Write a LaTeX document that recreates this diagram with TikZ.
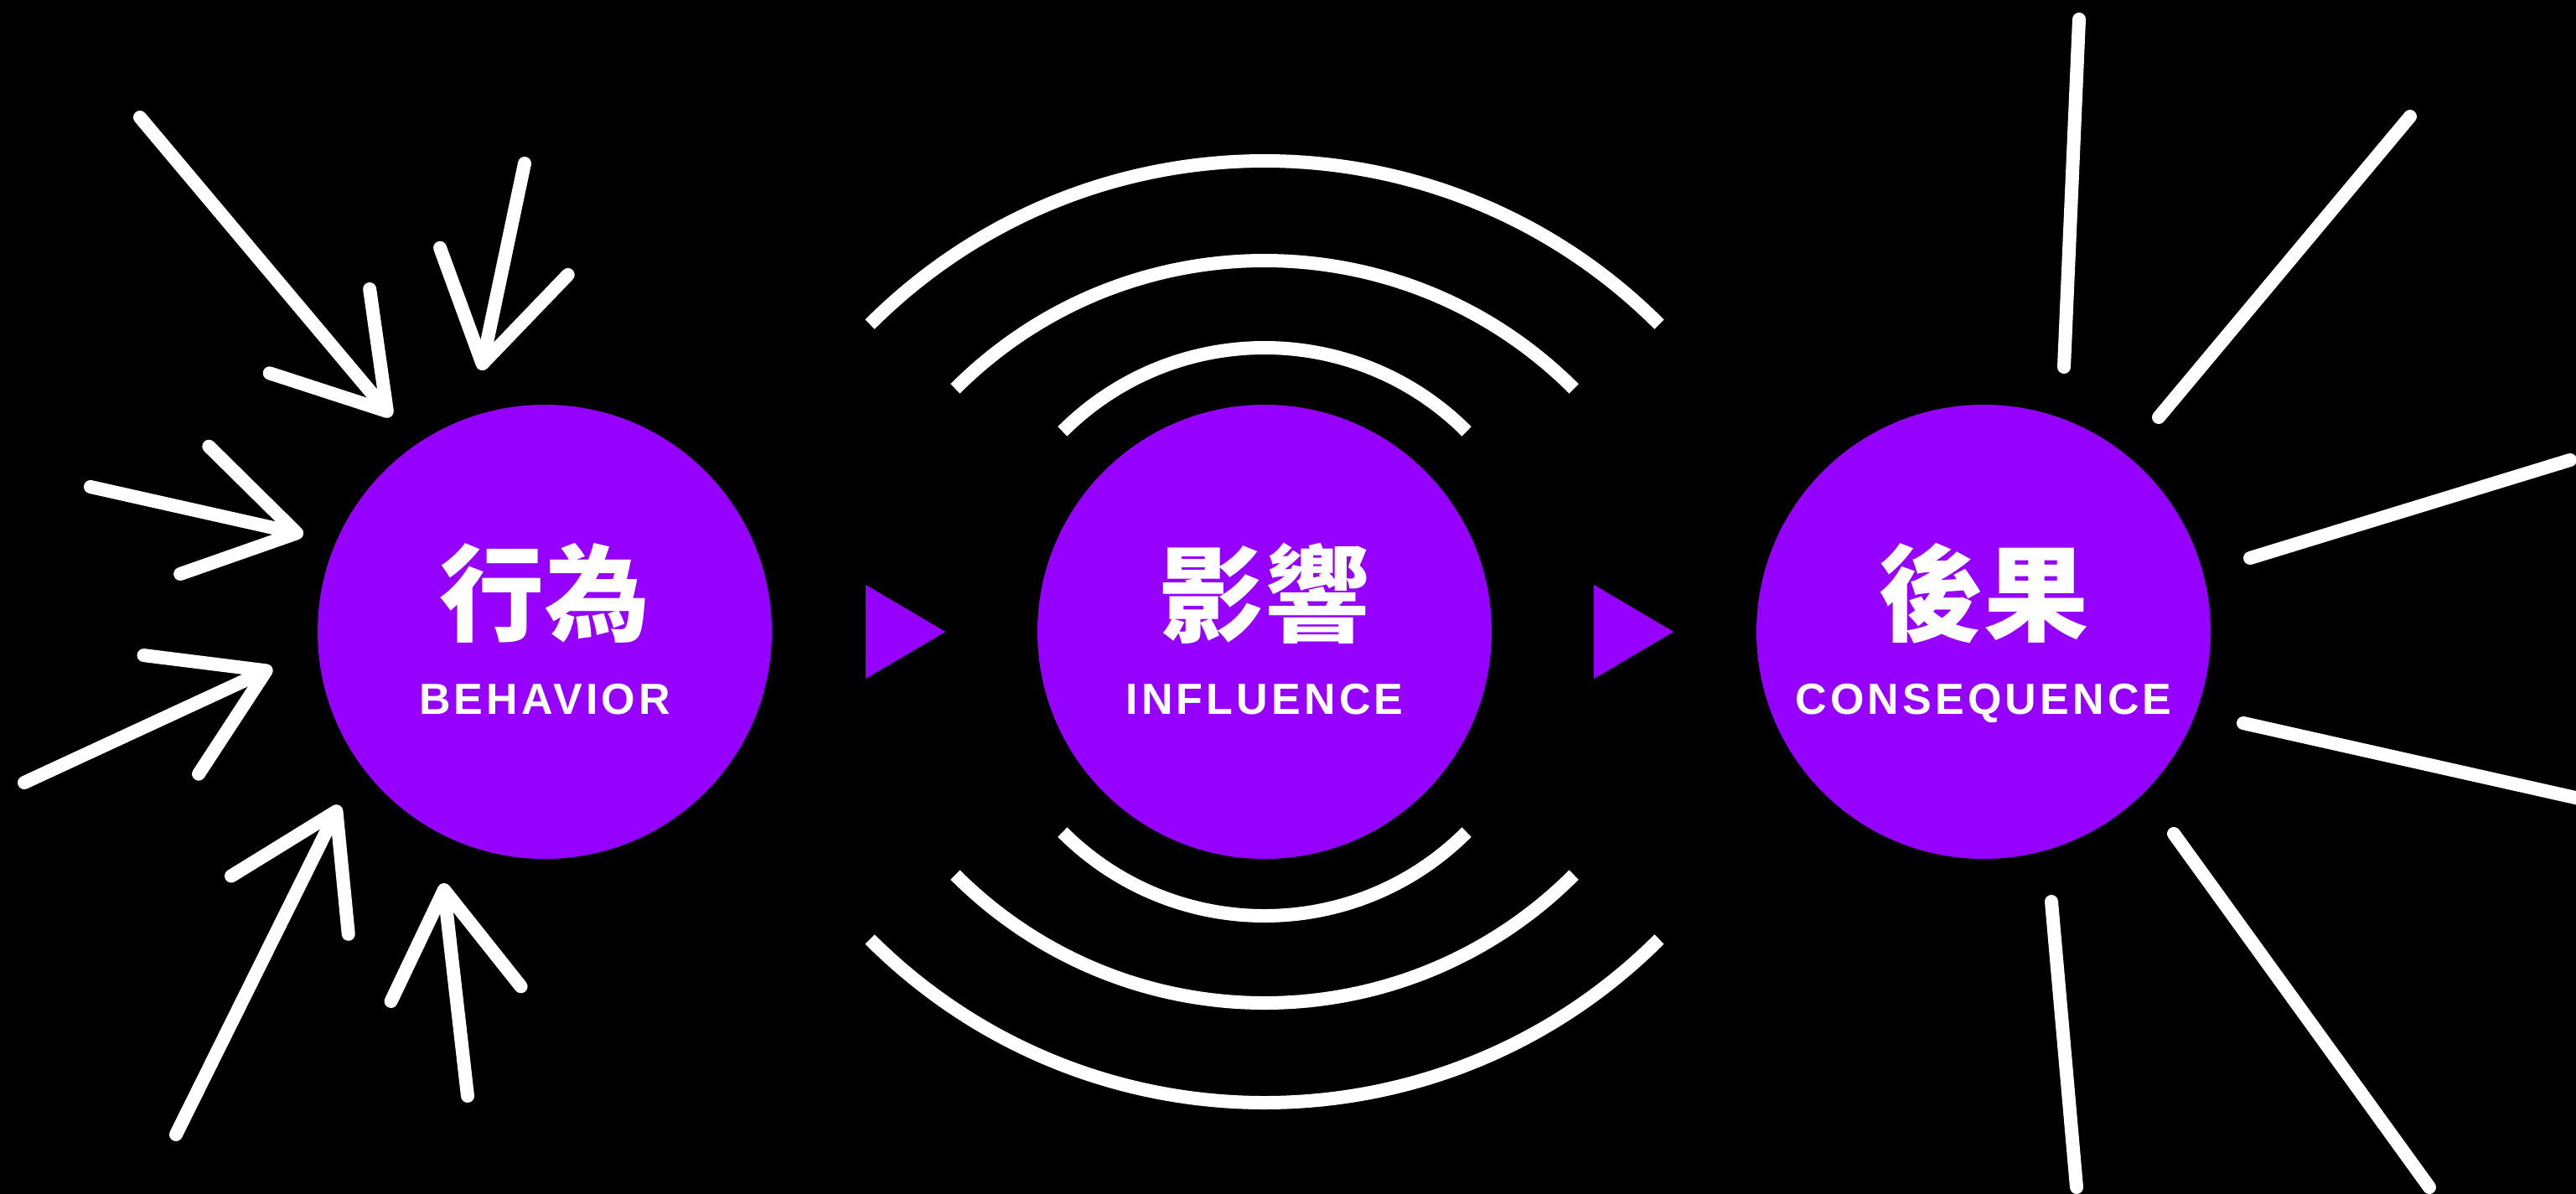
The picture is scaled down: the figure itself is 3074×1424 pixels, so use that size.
\documentclass[tikz,border=0pt]{standalone}
\usepackage{fontspec}
\usepackage{tikz}
\usetikzlibrary{arrows.meta}
\newfontfamily\zhfont{Noto Sans CJK TC}
\newfontfamily\enfont{Liberation Sans}[LetterSpace=8]
\definecolor{violet1}{RGB}{150,0,255}

\begin{document}
\begin{tikzpicture}[x=0.1mm,y=-0.1mm,line width=1.6mm,white,
        stage/.style={circle,fill=violet1,minimum size=54.2mm,inner sep=0pt},
        zh/.style={font=\zhfont\bfseries\fontsize{35.6pt}{40pt}\selectfont,text=white,inner sep=0pt},
        en/.style={font=\enfont\bfseries\fontsize{14.8pt}{16pt}\selectfont,text=white,inner sep=0pt,anchor=base},
        inarrow/.style={line cap=round,-{Straight Barb[length=12.5mm,width=15.6mm,round]}},
        ray/.style={line cap=round},
        wave/.style={line cap=butt}]
      \useasboundingbox (0,0) rectangle (3074,1424);
      \fill[black] (-30,-30) rectangle (3104,1454);
      \node[stage] (beh) at (650,754) {};
      \node[stage] (inf) at (1509,754) {};
      \node[stage] (con) at (2367,754) {};
      \node[zh] (behzh) at (650,708) {行為};
      \node[en] (behen) at (650,852) {BEHAVIOR};
      \node[zh] (infzh) at (1509,708) {影響};
      \node[en] (infen) at (1509,852) {INFLUENCE};
      \node[zh] (conzh) at (2367,708) {後果};
      \node[en] (conen) at (2367,852) {CONSEQUENCE};
      \fill[violet1] (1033,698) -- (1033,810) -- (1128,754) -- cycle;
      \fill[violet1] (1902,698) -- (1902,810) -- (1997,754) -- cycle;
      \coordinate (t1) at (167,140);  \coordinate (h1) at (467,497);
      \coordinate (t2) at (626,195);  \coordinate (h2) at (574,442);
      \coordinate (t3) at (108,581);  \coordinate (h3) at (362,638);
      \coordinate (t4) at (29,934);   \coordinate (h4) at (325,797);
      \coordinate (t5) at (210,1354); \coordinate (h5) at (405,961);
      \coordinate (t6) at (558,1308); \coordinate (h6) at (529,1054);
      \foreach \i in {1,...,6}
        \draw[inarrow] (t\i) -- (h\i);
      \foreach \r/\d in {666/104,522/79,341/2}{
        \draw[wave] (inf.center) ++(0,\d) ++(-135:\r) arc[start angle=-135,end angle=-45,radius=\r];
        \draw[wave] (inf.center) ++(0,-\d) ++(135:\r) arc[start angle=135,end angle=45,radius=\r];
      }
      \coordinate (r1a) at (2463,438);  \coordinate (r1b) at (2481,23);
      \coordinate (r2a) at (2576,498);  \coordinate (r2b) at (2876,139);
      \coordinate (r3a) at (2685,666);  \coordinate (r3b) at (3067,549);
      \coordinate (r4a) at (2677,863);  \coordinate (r4b) at (3100,958);
      \coordinate (r5a) at (2594,995);  \coordinate (r5b) at (2899,1417);
      \coordinate (r6a) at (2448,1076); \coordinate (r6b) at (2478,1417);
      \foreach \i in {1,...,6}
        \draw[ray] (r\i a) -- (r\i b);
    \end{tikzpicture}
\end{document}
